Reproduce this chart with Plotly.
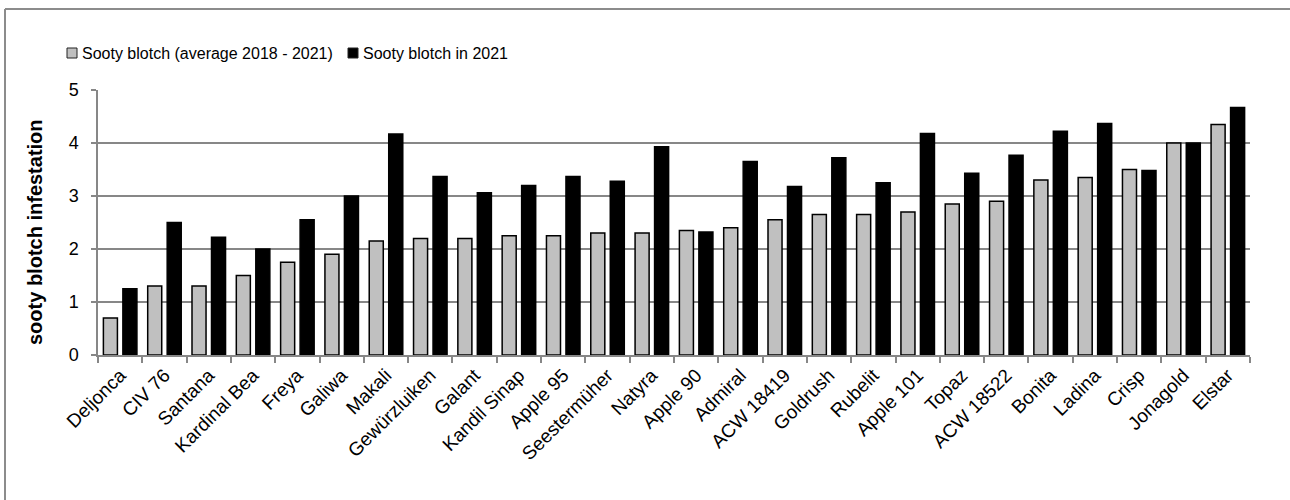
import plotly.graph_objects as go

# Apple varieties, sorted by average sooty blotch infestation
varieties = [
    "Deljonca", "CIV 76", "Santana", "Kardinal Bea", "Freya", "Galiwa", "Makali",
    "Gewürzluiken", "Galant", "Kandil Sinap", "Apple 95", "Seestermüher", "Natyra",
    "Apple 90", "Admiral", "ACW 18419", "Goldrush", "Rubelit", "Apple 101", "Topaz",
    "ACW 18522", "Bonita", "Ladina", "Crisp", "Jonagold", "Elstar",
]

# Average infestation score 2018 - 2021
avg_2018_2021 = [
    0.70, 1.30, 1.30, 1.50, 1.75, 1.90, 2.15, 2.20, 2.20, 2.25, 2.25, 2.30, 2.30,
    2.35, 2.40, 2.55, 2.65, 2.65, 2.70, 2.85, 2.90, 3.30, 3.35, 3.50, 4.00, 4.35,
]

# Infestation score in 2021
score_2021 = [
    1.25, 2.50, 2.22, 2.00, 2.55, 3.00, 4.17, 3.37, 3.06, 3.20, 3.37, 3.28, 3.93,
    2.32, 3.65, 3.18, 3.72, 3.25, 4.18, 3.43, 3.77, 4.22, 4.37, 3.48, 4.00, 4.67,
]

y_ticks = [0, 1, 2, 3, 4, 5]

series_names = ["Sooty blotch (average 2018 - 2021)", "Sooty blotch in 2021"]
series_colors = ["#C0C0C0", "black"]

FONT = "Liberation Sans, Arial, sans-serif"
GRID = "#878787"

W, H = 1290, 500
M_L, M_R, M_T, M_B = 98, 40, 90, 145
PW, PH = W - M_L - M_R, H - M_T - M_B


def px_x(px):
    """Page pixel column -> paper x."""
    return (px - M_L) / PW


def px_y(py):
    """Page pixel row -> paper y."""
    return (H - M_B - py) / PH


fig = go.Figure()
for name, color, values in zip(series_names, series_colors, [avg_2018_2021, score_2021]):
    fig.add_trace(go.Bar(
        x=varieties, y=values, name=name,
        marker=dict(color=color, line=dict(color="black", width=1.5)),
    ))

# outer chart frame: top and left edges
frame = dict(color="#8C8C8C", width=2)
fig.add_shape(type="line", xref="paper", yref="paper",
              x0=px_x(5), x1=px_x(1296), y0=px_y(9), y1=px_y(9), line=frame)
fig.add_shape(type="line", xref="paper", yref="paper",
              x0=px_x(5), x1=px_x(5), y0=px_y(9), y1=px_y(506), line=frame)

# legend: swatch + label for each series
legend_slots = [(67, 80), (348, 361)]
for (sx, tx), name, color in zip(legend_slots, series_names, series_colors):
    fig.add_shape(type="rect", xref="paper", yref="paper",
                  x0=px_x(sx), x1=px_x(sx + 10), y0=px_y(58), y1=px_y(48),
                  fillcolor=color, line=dict(color="#222222", width=1))
    fig.add_annotation(xref="paper", yref="paper", x=px_x(tx), y=px_y(53),
                       xanchor="left", yanchor="middle", showarrow=False,
                       text=name, font=dict(size=16))

# y-axis title
fig.add_annotation(xref="paper", yref="paper", x=px_x(35), y=px_y(232),
                   xanchor="center", yanchor="middle", showarrow=False, textangle=-90,
                   text="<b>sooty blotch infestation</b>", font=dict(size=20))

fig.update_layout(
    width=W, height=H,
    margin=dict(l=M_L, r=M_R, t=M_T, b=M_B),
    paper_bgcolor="white", plot_bgcolor="white",
    barmode="group", bargap=0.12, bargroupgap=0.28,
    font=dict(family=FONT, color="black", size=16),
    showlegend=False,
    xaxis=dict(
        type="category", tickangle=-45, tickfont=dict(size=19),
        showline=True, linecolor=GRID, linewidth=1.5,
        ticks="outside", ticklen=6, tickcolor=GRID, tickwidth=1.5,
        tickson="boundaries", showgrid=False, automargin=False,
    ),
    yaxis=dict(
        range=[0, 5], tickvals=y_ticks, tickfont=dict(size=18),
        showline=True, linecolor=GRID, linewidth=1.5,
        ticks="outside", ticklen=5, tickcolor=GRID, tickwidth=1.5,
        ticklabelstandoff=9,
        showgrid=True, gridcolor=GRID, gridwidth=1.5, zeroline=False,
        automargin=False,
    ),
)

fig.write_html("out.html")
